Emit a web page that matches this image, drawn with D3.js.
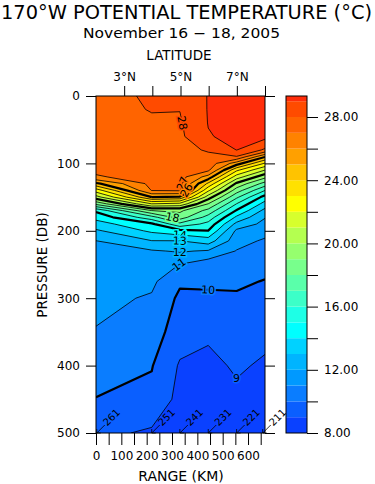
<!DOCTYPE html>
<html>
<head>
<meta charset="utf-8">
<script src="https://cdn.jsdelivr.net/npm/d3@7"></script>
<style>
  body { margin: 0; background: #fff; }
  svg { display: block; }
  text { font-family: "DejaVu Sans", "Liberation Sans", sans-serif; fill: #000; }
</style>
</head>
<body>
<svg id="chart" width="375" height="484"></svg>
<script>
// --- data ---
// CTD casts along 170W (south -> north) and their along-track range (km)
const stationCasts = ["261", "251", "241", "231", "221", "211"];
const stationKm = [3, 220, 331, 443, 555, 658];
const gridKm = [0, 220, 331, 443, 555, 667];
const pressureLevels = [0, 20, 40, 60, 80, 90, 100, 110, 120, 130, 140, 150, 160, 170, 180, 190, 200, 215, 230, 250, 275, 300, 350, 400, 450, 500];

// potential temperature (C) at each pressure level, one profile per cast
const temp261 = [27.6, 27.6, 27.6, 27.55, 27.5, 27.45, 27.4, 27.2, 26.9, 24.8, 22.5, 20.6, 18.3, 15.2, 14.3, 13.6, 12.85, 11.98, 11.8, 11.6, 11.4, 11.25, 10.95, 10.45, 9.97, 9.25];
const temp251 = [28.15, 28.05, 27.85, 27.75, 27.65, 27.6, 27.55, 27.5, 27.4, 27.3, 27.05, 25.0, 22.0, 19.0, 16.6, 14.8, 14.2, 12.97, 11.9, 11.6, 11.2, 10.9, 10.5, 10.05, 9.75, 8.85];
const temp241 = [28.1, 28.02, 27.9, 27.8, 27.7, 27.65, 27.6, 27.5, 27.4, 27.3, 27.15, 24.8, 21.7, 19.2, 18.5, 16.7, 14.7, 12.98, 12.1, 10.98, 10.15, 9.8, 9.45, 8.9, 8.7, 8.5];
const temp231 = [29.05, 29.05, 29.03, 28.95, 28.1, 27.8, 27.6, 27.2, 25.6, 23.8, 22.2, 20.5, 18.98, 17.7, 16.6, 15.7, 14.98, 13.5, 11.9, 10.4, 10.1, 9.9, 9.2, 8.7, 8.5, 8.3];
const temp221 = [29.4, 29.35, 29.3, 29.2, 29.02, 27.95, 25.5, 23.2, 21.5, 19.8, 18.5, 17.2, 15.98, 14.9, 13.8, 12.7, 11.8, 11.4, 10.95, 10.6, 10.2, 9.85, 9.5, 9.15, 8.75, 8.6];
const temp211 = [29.4, 29.35, 29.32, 29.3, 27.85, 25.1, 22.9, 20.98, 19.3, 17.6, 16.02, 14.6, 13.6, 12.7, 12.05, 11.7, 11.4, 10.85, 10.6, 10.35, 9.95, 9.7, 9.3, 8.85, 8.6, 8.4];

const contourLevels = d3.range(8, 30);            // 8 .. 29, every 1 degree
const thickLevels = [10, 15, 20, 25];
const bandColors = ["#0a41ff", "#0a5fff", "#0a7dff", "#0099ff", "#00b4ff", "#00d2ff",
                    "#00ffff", "#1effe6", "#3cffc8", "#5affaa", "#78ff8c", "#96ff6e",
                    "#b4ff50", "#d7ff2d", "#ffff00", "#ffe100", "#ffc300", "#ffa000",
                    "#ff8200", "#ff6400", "#ff4b00", "#ff2d0a"];
const colorbarMax = 29.33;

const rangeTicks = d3.range(0, 651, 50);
const latTicks = [3, 4, 5, 6, 7, 8];
const pressureTicks = [0, 100, 200, 300, 400, 500];
const colorbarTicks = d3.range(8, 29, 2);

// contour labels: level and rough spot (km, db) where it sits
const labelLevels = [28, 27, 26, 18, 14, 13, 12, 11, 10, 9];
const labelKm = [351, 362, 360, 304, 351, 304, 339, 284, 477, 560];
const labelDb = [49, 132, 142, 183, 207, 214, 230, 262, 285, 418];

// --- layout ---
const width = 375, height = 484;
const plot = { left: 96, right: 265, top: 96, bottom: 433 };
const bar = { left: 286, right: 307 };

const svg = d3.select("#chart");

const x = d3.scaleLinear().domain([0, 667]).range([plot.left, plot.right]);
const lat = d3.scaleLinear().domain([2, 8]).range([plot.left, plot.right]);
const y = d3.scaleLinear().domain([0, 500]).range([plot.top, plot.bottom]);
const cb = d3.scaleLinear().domain([8, colorbarMax]).range([plot.bottom, plot.top]);
const color = d3.scaleThreshold().domain(contourLevels.slice(1)).range(bandColors);

// grid for d3.contours (rows = pressure, columns = casts)
const nx = gridKm.length, ny = pressureLevels.length;
const columns = [temp261, temp251, temp241, temp231, temp221, temp211];
const values = new Array(nx * ny);
for (let j = 0; j < ny; j++)
  for (let i = 0; i < nx; i++) values[j * nx + i] = columns[i][j];

const contours = d3.contours().size([nx, ny]).thresholds(contourLevels)(values);

// grid coordinate -> sample index (sample i sits at i + 0.5)
const sampleIdx = (c, n) => Math.max(0, Math.min(n - 1, c - 0.5));
function gridToData(arr, c, n) {
  const s = sampleIdx(c, n);
  const i = Math.min(Math.floor(s), n - 2);
  return arr[i] + (s - i) * (arr[i + 1] - arr[i]);
}
const toScreen = pt => [x(gridToData(gridKm, pt[0], nx)), y(gridToData(pressureLevels, pt[1], ny))];

const path = d3.geoPath(d3.geoTransform({
  point(px, py) { const p = toScreen([px, py]); this.stream.point(p[0], p[1]); }
}));

svg.append("defs").append("clipPath").attr("id", "plotClip")
  .append("rect")
  .attr("x", plot.left).attr("y", plot.top)
  .attr("width", plot.right - plot.left).attr("height", plot.bottom - plot.top);

// filled bands
svg.append("g").attr("clip-path", "url(#plotClip)")
  .selectAll("path")
  .data(contours)
  .join("path")
  .attr("d", path)
  .attr("fill", d => color(d.value));

// isolines without the grid border segments
const runsByLevel = {};
function isoline(mp) {
  let d = "";
  const runs = [];
  mp.coordinates.forEach(poly => poly.forEach(ring => {
    let run = null;
    for (let k = 1; k < ring.length; k++) {
      const a = ring[k - 1], b = ring[k];
      const ax = sampleIdx(a[0], nx), bx = sampleIdx(b[0], nx);
      const ay = sampleIdx(a[1], ny), by = sampleIdx(b[1], ny);
      const edge = (ax === bx && (ax === 0 || ax === nx - 1)) ||
                   (ay === by && (ay === 0 || ay === ny - 1));
      if (edge) { run = null; continue; }
      const pa = toScreen(a), pb = toScreen(b);
      if (!run) { run = [pa]; runs.push(run); d += "M" + pa[0].toFixed(2) + "," + pa[1].toFixed(2); }
      run.push(pb);
      d += "L" + pb[0].toFixed(2) + "," + pb[1].toFixed(2);
    }
  }));
  runsByLevel[mp.value] = runs;
  return d;
}

svg.append("g").attr("clip-path", "url(#plotClip)")
  .selectAll("path")
  .data(contours.filter(c => c.value > 8))
  .join("path")
  .attr("d", isoline)
  .attr("fill", "none")
  .attr("stroke", "#000")
  .attr("stroke-width", d => thickLevels.includes(d.value) ? 2.2 : 0.8)
  .attr("stroke-linejoin", "round");

// contour labels snapped to the nearest point of their isoline
const labelG = svg.append("g");
labelLevels.forEach((lev, n) => {
  const runs = runsByLevel[lev] || [];
  const ax = x(labelKm[n]), ay = y(labelDb[n]);
  let best = null;
  runs.forEach(run => run.forEach((p, k) => {
    const dd = (p[0] - ax) ** 2 + (p[1] - ay) ** 2;
    if (!best || dd < best.dd) best = { dd, run, k };
  }));
  if (!best) return;
  const r = best.run;
  const p0 = r[Math.max(0, best.k - 1)], p1 = r[Math.min(r.length - 1, best.k + 1)];
  const p = r[best.k];
  let ang = Math.atan2(p1[1] - p0[1], p1[0] - p0[0]) * 180 / Math.PI;
  if (ang > 90) ang -= 180;
  if (ang <= -90) ang += 180;
  labelG.append("text")
    .attr("transform", `translate(${p[0]},${p[1]}) rotate(${ang})`)
    .attr("text-anchor", "middle")
    .attr("dy", "0.35em")
    .attr("font-size", 11)
    .attr("stroke", color(lev))
    .attr("stroke-width", 3)
    .attr("paint-order", "stroke")
    .text(lev);
});

// cast markers along the bottom
const castG = svg.append("g").selectAll("g")
  .data(stationCasts)
  .join("g")
  .attr("transform", (d, i) => `translate(${x(stationKm[i])},${plot.bottom})`);
castG.append("path")
  .attr("d", "M0,0L8,-8M0,0L0,-4M0,0L4,0")
  .attr("stroke", "#000").attr("stroke-width", 0.8).attr("fill", "none");
castG.append("text")
  .attr("transform", "translate(8,-9) rotate(-45)")
  .attr("font-size", 10)
  .attr("dy", "0.35em")
  .text(d => d);

// frame
svg.append("rect")
  .attr("x", plot.left).attr("y", plot.top)
  .attr("width", plot.right - plot.left).attr("height", plot.bottom - plot.top)
  .attr("fill", "none").attr("stroke", "#000").attr("stroke-width", 1);

// axes
const axisLeft = svg.append("g").attr("transform", `translate(${plot.left},0)`)
  .call(d3.axisLeft(y).tickValues(pressureTicks).tickSize(10).tickPadding(6));
const axisRight = svg.append("g").attr("transform", `translate(${plot.right},0)`)
  .call(d3.axisRight(y).tickValues(pressureTicks).tickSize(10).tickFormat(""));
const axisBottom = svg.append("g").attr("transform", `translate(0,${plot.bottom})`)
  .call(d3.axisBottom(x).tickValues(rangeTicks).tickSize(12).tickPadding(6.5)
    .tickFormat(d => d % 100 === 0 ? d : ""));
const axisTop = svg.append("g").attr("transform", `translate(0,${plot.top})`)
  .call(d3.axisTop(lat).tickValues(latTicks).tickSize(10).tickPadding(5)
    .tickFormat(d => d % 2 === 1 ? d + "°N" : ""));

[axisLeft, axisRight, axisBottom, axisTop].forEach(g => {
  g.select(".domain").remove();
  g.attr("font-size", 12).attr("font-family", null);
});

// colorbar
const cbG = svg.append("g");
cbG.selectAll("rect")
  .data(contourLevels)
  .join("rect")
  .attr("x", bar.left)
  .attr("width", bar.right - bar.left)
  .attr("y", d => cb(Math.min(d + 1, colorbarMax)))
  .attr("height", d => cb(d) - cb(Math.min(d + 1, colorbarMax)))
  .attr("fill", d => color(d));
cbG.append("rect")
  .attr("x", bar.left).attr("y", plot.top)
  .attr("width", bar.right - bar.left).attr("height", plot.bottom - plot.top)
  .attr("fill", "none").attr("stroke", "#000");
const cbAxis = svg.append("g").attr("transform", `translate(${bar.right},0)`)
  .call(d3.axisRight(cb).tickValues(colorbarTicks).tickSize(11).tickPadding(6)
    .tickFormat(d => d % 4 === 0 ? d.toFixed(2) : ""));
cbAxis.select(".domain").remove();
cbAxis.attr("font-size", 12).attr("font-family", null);

// titles
svg.append("text").attr("x", 1).attr("y", 19)
  .attr("font-size", 19).attr("textLength", 371).attr("lengthAdjust", "spacingAndGlyphs")
  .text("170°W POTENTIAL TEMPERATURE (°C)");
svg.append("text").attr("x", 181.5).attr("y", 37.5).attr("text-anchor", "middle")
  .attr("font-size", 13.5).attr("textLength", 197).attr("lengthAdjust", "spacingAndGlyphs")
  .text("November 16 − 18, 2005");
svg.append("text").attr("x", 179).attr("y", 60).attr("text-anchor", "middle")
  .attr("font-size", 13.5).text("LATITUDE");
svg.append("text").attr("x", 181).attr("y", 481).attr("text-anchor", "middle")
  .attr("font-size", 14).text("RANGE (KM)");
svg.append("text").attr("transform", "translate(47,265) rotate(-90)")
  .attr("text-anchor", "middle").attr("font-size", 13.5).text("PRESSURE (DB)");
</script>
</body>
</html>
